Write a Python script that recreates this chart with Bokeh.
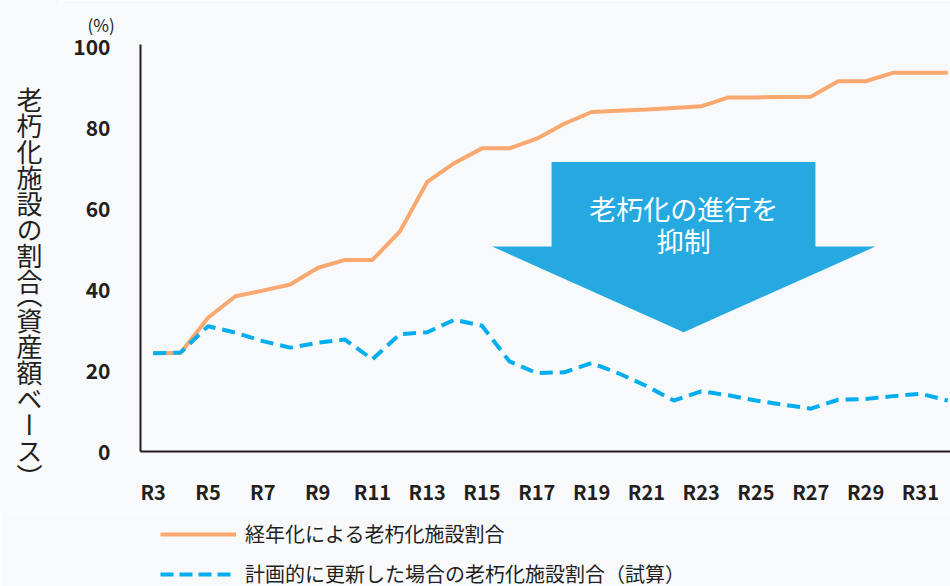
from bokeh.plotting import figure
from bokeh.layouts import row, column
from bokeh.models import FixedTicker, Label, Legend, LegendItem, Range1d, Title, Div
from bokeh.embed import file_html
from bokeh.resources import INLINE

# ---- data ----
years = list(range(3, 33))
tick_years = list(range(3, 32, 2))
tick_labels = ["R%d" % y for y in tick_years]
y_ticks = [0, 20, 40, 60, 80, 100]

aging = [24.4, 24.4, 33.1, 38.4, 39.8, 41.3, 45.4, 47.4, 47.4, 54.4,
         66.7, 71.4, 75.0, 75.0, 77.4, 81.1, 84.0, 84.3, 84.6, 85.0,
         85.4, 87.6, 87.6, 87.7, 87.8, 91.6, 91.6, 93.7, 93.7, 93.7]
planned = [24.3, 24.5, 31.0, 29.4, 27.3, 25.7, 26.9, 27.7, 22.8, 29.0,
           29.5, 32.6, 31.1, 22.3, 19.4, 19.6, 21.9, 19.3, 16.2, 12.6,
           14.9, 13.9, 12.6, 11.6, 10.6, 12.8, 13.0, 13.7, 14.3, 12.6]

series_names = ["経年化による老朽化施設割合", "計画的に更新した場合の老朽化施設割合（試算）"]
y_title = "老朽化施設の割合（資産額ベース）"
unit_label = "(%)"
arrow_lines = ["老朽化の進行を", "抑制"]

# arrow annotation outline (data units)
arrow_x = [17.54, 27.17, 27.17, 29.36, 22.36, 15.37, 17.54]
arrow_y = [71.6, 71.6, 50.7, 50.7, 29.5, 50.7, 50.7]
arrow_text_y = [60.1, 52.2]

BG = "#f8f9fb"
DARK = "#231f20"
ORANGE = "#f9a86f"
BLUE = "#00aeef"
ARROW = "#26a9e0"
FONT = "Noto Sans CJK JP"

LEFT_W = 60
FRAME_TOP = 44
FRAME_H = 407
BOTTOM = 62
TOP_H = FRAME_TOP + FRAME_H + BOTTOM   # 513
LEG_H = 586 - TOP_H                   # 73

# ---- left column: vertical (tategaki) axis title ----
title_div = Div(
    text=('<div style="writing-mode:vertical-rl;text-orientation:upright;'
          "font-family:'%s';font-size:26px;line-height:26px;color:%s;"
          "font-feature-settings:'vhal' 1;margin:87px 0 0 16px;white-space:nowrap;\">%s</div>")
         % (FONT, DARK, y_title),
    width=LEFT_W, height=TOP_H, margin=0,
    styles={"background-color": BG, "overflow": "visible"},
)

# ---- main chart ----
p = figure(frame_width=950 - 140, frame_height=FRAME_H,
           x_range=Range1d(2.536, 32.10), y_range=Range1d(0, 100.7),
           output_backend="svg", toolbar_location=None,
           min_border_left=140 - LEFT_W, min_border_right=0, min_border_top=FRAME_TOP,
           min_border_bottom=BOTTOM,
           background_fill_color=BG, border_fill_color=BG, outline_line_color=None)
p.grid.visible = False

p.title = Title(text=unit_label, align="left", offset=-53, standoff=16,
                text_font=FONT, text_font_size="17px", text_font_style="normal", text_color=DARK)

# arrow
p.patch(arrow_x, arrow_y, fill_color=ARROW, line_color=None)
for txt, ty in zip(arrow_lines, arrow_text_y):
    p.add_layout(Label(x=22.36, y=ty, text=txt, text_align="center", text_baseline="middle",
                       text_font=FONT, text_font_size="27px", text_color="white"))

r1 = p.line(years, aging, line_color=ORANGE, line_width=4)
r2 = p.line(years, planned, line_color=BLUE, line_width=4, line_dash="13 7")

for ax in (p.xaxis[0], p.yaxis[0]):
    ax.axis_line_color = DARK
    ax.axis_line_width = 2
    ax.major_tick_line_color = None
    ax.minor_tick_line_color = None
    ax.major_label_text_font = FONT
    ax.major_label_text_font_style = "bold"
    ax.major_label_text_font_size = "20px"
    ax.major_label_text_color = DARK

p.yaxis.major_label_text_font_size = "21px"
p.yaxis.ticker = FixedTicker(ticks=y_ticks)
p.yaxis.major_label_standoff = 24
p.xaxis.ticker = FixedTicker(ticks=tick_years)
p.xaxis.major_label_overrides = {t: l for t, l in zip(tick_years, tick_labels)}
p.xaxis.major_label_standoff = 19

# ---- legend strip (series drawn outside its visible range; only the legend shows) ----
lg = figure(frame_width=950, frame_height=LEG_H, x_range=Range1d(-2, -1), y_range=Range1d(-2, -1),
            output_backend="svg", toolbar_location=None, x_axis_type=None, y_axis_type=None,
            min_border=0, background_fill_color=BG, border_fill_color=BG, outline_line_color=None)
lg.grid.visible = False
k1 = lg.line(years, aging, line_color=ORANGE, line_width=4)
k2 = lg.line(years, planned, line_color=BLUE, line_width=4, line_dash="13 6")
legend = Legend(items=[LegendItem(label=series_names[0], renderers=[k1]),
                       LegendItem(label=series_names[1], renderers=[k2])],
                location=(160, -2), orientation="vertical",
                label_text_font=FONT, label_text_font_size="20px", label_text_color=DARK,
                label_height=28, glyph_height=28, glyph_width=76, spacing=11,
                label_standoff=9, padding=0, margin=0,
                background_fill_alpha=0, border_line_color=None)
lg.add_layout(legend)

layout = column(row(title_div, p), lg)
html = file_html(layout, INLINE)
html = html.replace("<body>", '<body style="background-color:%s;">' % BG, 1)
open("out.html", "w").write(html)
